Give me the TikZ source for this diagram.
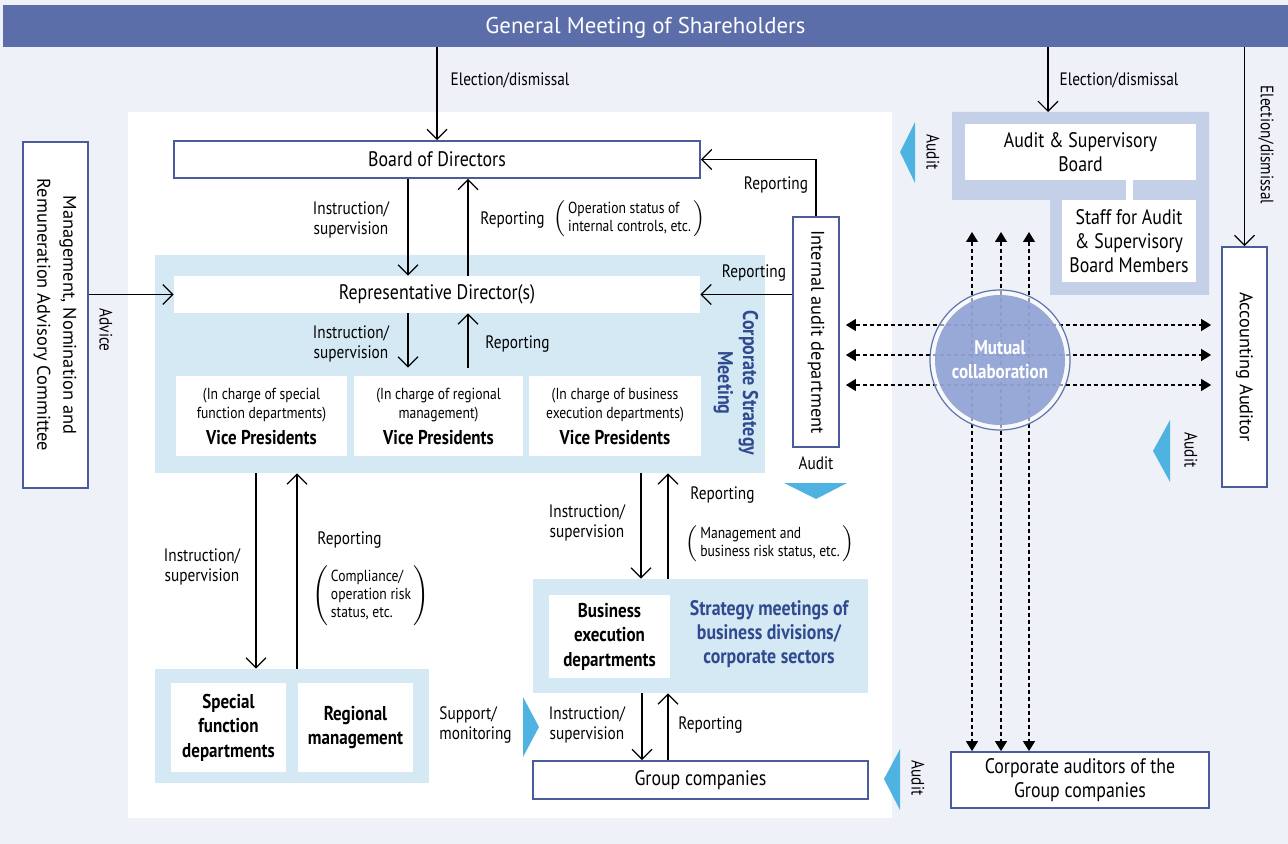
\documentclass[tikz,border=0pt]{standalone}
\usepackage{fontspec}
\usepackage{graphicx}
\setmainfont{PT Sans}
\newfontfamily\cond[FakeStretch=0.85]{PT Sans}
\usetikzlibrary{arrows.meta}

\definecolor{bgcol}{HTML}{EEF1F8}
\definecolor{bandcol}{HTML}{5B6EA9}
\definecolor{boxcol}{HTML}{4B5C9C}
\definecolor{csmcol}{HTML}{D5E9F5}
\definecolor{asbcol}{HTML}{C4D0E7}
\definecolor{tricol}{HTML}{4FB3E2}
\definecolor{mutcol}{HTML}{8C9ED3}
\definecolor{ringcol}{HTML}{6073B0}
\definecolor{titcol}{HTML}{2F4A8F}

\newcommand\parennote[1]{$\left(\,\begin{tabular}{@{}l@{}}#1\end{tabular}\,\right)$}

\tikzset{
  box/.style={draw=boxcol,line width=0.9pt,fill=white,inner sep=0pt,align=center,
    font=\cond\fontsize{10.5}{12}\selectfont},
  wbox/.style={fill=white,inner sep=0pt,align=center,
    font=\cond\fontsize{10.5}{12}\selectfont},
  bbox/.style={wbox,font=\cond\bfseries\fontsize{10}{12.2}\selectfont},
  vpbox/.style={wbox,minimum height=40pt,font=\cond\fontsize{8}{9.5}\selectfont},
  region/.style={fill=csmcol,inner sep=0pt},
  lbl/.style={inner sep=0pt,align=center,font=\cond\fontsize{9}{10}\selectfont},
  note/.style={inner sep=0pt,font=\cond\fontsize{8}{9}\selectfont},
  vlbl/.style={lbl,rotate=-90},
  vtext/.style={font=\fontsize{9.2}{13}\selectfont},
  blue title/.style={inner sep=0pt,align=center,text=titcol,
    font=\cond\bfseries\fontsize{10.5}{12}\selectfont},
  arr/.style={line width=0.6pt,-{Straight Barb[length=5pt,width=10pt]}},
  dasharr/.style={line width=0.6pt,dash pattern=on 2pt off 1.5pt,
    {Triangle[length=5pt,width=6pt]}-{Triangle[length=5pt,width=6pt]}},
  tri/.style={fill=tricol}
}

\begin{document}
\begin{tikzpicture}[x=0.5pt,y=-0.5pt]
\fill[bgcol] (0,0) rectangle (1288,844);
\useasboundingbox (0,0) rectangle (1288,844);
\node[fill=bandcol,text=white,minimum width=642.5pt,minimum height=21pt,inner sep=0pt,text depth=0.5pt,
  font=\fontsize{11.4}{13}\selectfont] (gms) at (645.5,26) {General Meeting of Shareholders};
\fill[white] (128,112) rectangle (892,818);

% executive side
\node[region,minimum width=305pt,minimum height=109pt] (csm) at (460,364) {};
\node[box,minimum width=263pt,minimum height=18.5pt] (bod) at (437,159.5) {Board of Directors};
\node[wbox,minimum width=263pt,minimum height=18.5pt] (rep) at (437,294.5) {Representative Director(s)};
\node[vpbox,minimum width=85.5pt] (vp1) at (261.5,416)
  {(In charge of special\\function departments)\\[3.5pt]{\bfseries\fontsize{10}{12}\selectfont Vice Presidents}};
\node[vpbox,minimum width=84.5pt] (vp2) at (438.5,416)
  {(In charge of regional\\management)\\[3.5pt]{\bfseries\fontsize{10}{12}\selectfont Vice Presidents}};
\node[vpbox,minimum width=86pt] (vp3) at (615,416)
  {(In charge of business\\execution departments)\\[3.5pt]{\bfseries\fontsize{10}{12}\selectfont Vice Presidents}};
\node[blue title,rotate=-90,font=\cond\bfseries\fontsize{10.6}{12.5}\selectfont] (csmlbl) at (736,383)
  {Corporate Strategy\\Meeting};

\node[region,minimum width=137pt,minimum height=57pt] (sfr) at (292,726) {};
\node[bbox,minimum width=57.5pt,minimum height=44.5pt] (sfd) at (228.5,727.5) {Special\\function\\departments};
\node[bbox,minimum width=57.5pt,minimum height=44.5pt] (reg) at (355.5,727.5) {Regional\\management};

\node[region,minimum width=167.5pt,minimum height=57pt] (ber) at (700.5,636) {};
\node[bbox,minimum width=60.5pt,minimum height=41.5pt] (bed) at (609.5,636.5) {Business\\execution\\departments};
\node[blue title] (smb) at (769,634) {Strategy meetings of\\business divisions/\\corporate sectors};
\node[box,minimum width=167.5pt,minimum height=19pt] (grp) at (700.5,780) {Group companies};

\node[box,vtext,minimum width=32.5pt,minimum height=173pt] (cmt) at (55.5,315)
  {\rotatebox{-90}{\begin{tabular}{@{}c@{}}Management, Nomination and\\Remuneration Advisory Committee\end{tabular}}};
\node[box,vtext,minimum width=23pt,minimum height=115pt] (iad) at (816,332)
  {\rotatebox{-90}{Internal audit department}};

% audit side
\fill[asbcol] (952,112) -- (1209,112) -- (1209,295) -- (1050,295) -- (1050,200) -- (952,200) -- cycle;
\fill[white] (1126,180) rectangle (1133,200);
\coordinate (asbtop) at (1048,112);
\node[wbox,minimum width=115.5pt,minimum height=28pt] (asb) at (1080.5,152) {Audit \& Supervisory\\Board};
\node[wbox,minimum width=67pt,minimum height=41pt] (staff) at (1129,241) {Staff for Audit\\\& Supervisory\\Board Members};
\node[box,vtext,minimum width=22.5pt,minimum height=120pt] (aa) at (1244.5,367)
  {\rotatebox{-90}{Accounting Auditor}};
\node[box,minimum width=129pt,minimum height=28pt] (cag) at (1080,780) {Corporate auditors of the\\Group companies};

% mutual collaboration
\foreach \y in {325,355,385}
  \draw[dasharr,shorten <=3pt,shorten >=5pt] (iad.east |- 0,\y) -- (aa.west |- 0,\y);
\foreach \x [count=\i] in {972,1001,1029} {
  \coordinate (top\i) at (\x,232);
  \draw[dasharr] (top\i) -- (cag.north -| top\i);
}
\draw[ringcol,line width=0.6pt,fill=white,fill opacity=0.6] (1000,360) circle[radius=35pt];
\node[circle,fill=mutcol,fill opacity=0.88,text opacity=1,text=white,minimum size=65pt,inner sep=0pt,
  align=center,font=\cond\bfseries\fontsize{10}{12}\selectfont] (mut) at (1000,360) {Mutual\\collaboration};

% arrows
\draw[arr] (gms.south -| bod.north) -- (bod.north);
\draw[arr] (gms.south -| asbtop) -- (asbtop);
\draw[arr] (gms.south -| aa.north) -- (aa.north);
\draw[arr] (bod.south -| 408,0) -- (rep.north -| 408,0);
\draw[arr] (rep.north -| 468,0) -- (bod.south -| 468,0);
\draw[arr,shorten >=4pt] (rep.south -| 408,0) -- (vp2.north -| 408,0);
\draw[arr,shorten <=4pt] (vp2.north -| 468,0) -- (rep.south -| 468,0);
\draw[arr] (cmt.east |- rep.west) -- (rep.west);
\draw[arr] (iad.north) |- (bod.east);
\draw[arr] (iad.west |- rep.east) -- (rep.east);
\draw[arr] (csm.south -| 256,0) -- (sfr.north -| 256,0);
\draw[arr] (sfr.north -| 297,0) -- (csm.south -| 297,0);
\draw[arr] (csm.south -| 641,0) -- (ber.north -| 641,0);
\draw[arr] (ber.north -| 668,0) -- (csm.south -| 668,0);
\draw[arr] (ber.south -| 642,0) -- (grp.north -| 642,0);
\draw[arr] (grp.north -| 668,0) -- (ber.south -| 668,0);

% audit marks
\fill[tri] (900,152) -- (915,122) -- (915,183) -- cycle;
\fill[tri] (1153,451) -- (1170,420) -- (1170,482) -- cycle;
\fill[tri] (884,779) -- (900,749) -- (900,810) -- cycle;
\fill[tri] (816,499) -- (784,483) -- (847,483) -- cycle;
\fill[tri] (539,727) -- (523,697) -- (523,757) -- cycle;

% labels
\node[lbl] (elec1) at (510,80) {Election/dismissal};
\node[lbl] (elec2) at (1119,80) {Election/dismissal};
\node[vlbl] (elec3) at (1266,145) {Election/dismissal};
\node[lbl] (instr1) at (351,220) {Instruction/\\supervision};
\node[lbl,anchor=west] (rpt1) at (480,220) {Reporting};
\node[note,anchor=west] (note1) at (553,219) {\parennote{Operation status of\\internal controls, etc.}};
\node[lbl] (instr2) at (351,344) {Instruction/\\supervision};
\node[lbl,anchor=west] (rpt2) at (485,344) {Reporting};
\node[lbl] (instr3) at (202,567) {Instruction/\\supervision};
\node[lbl,anchor=west] (rpt3) at (317,540) {Reporting};
\node[note] (note3) at (371,596) {\parennote{Compliance/\\operation risk\\status, etc.}};
\node[lbl] (instr4) at (587,523) {Instruction/\\supervision};
\node[lbl,anchor=west] (rpt4) at (690,495) {Reporting};
\node[note] (note4) at (770,544) {\parennote{Management and\\business risk status, etc.}};
\node[lbl,align=left,anchor=west] (supp) at (439,725) {Support/\\monitoring};
\node[lbl] (instr5) at (587,725) {Instruction/\\supervision};
\node[lbl,anchor=west] (rpt5) at (678,725) {Reporting};
\node[lbl] (rpt6) at (776,185) {Reporting};
\node[lbl] (rpt7) at (754,273) {Reporting};
\node[lbl] (aud1) at (816,463) {Audit};
\node[vlbl] (aud2) at (933,152) {Audit};
\node[vlbl] (aud3) at (1191,450) {Audit};
\node[vlbl] (aud4) at (918,778) {Audit};
\node[vlbl] (adv) at (106,330) {Advice};
\end{tikzpicture}
\end{document}
